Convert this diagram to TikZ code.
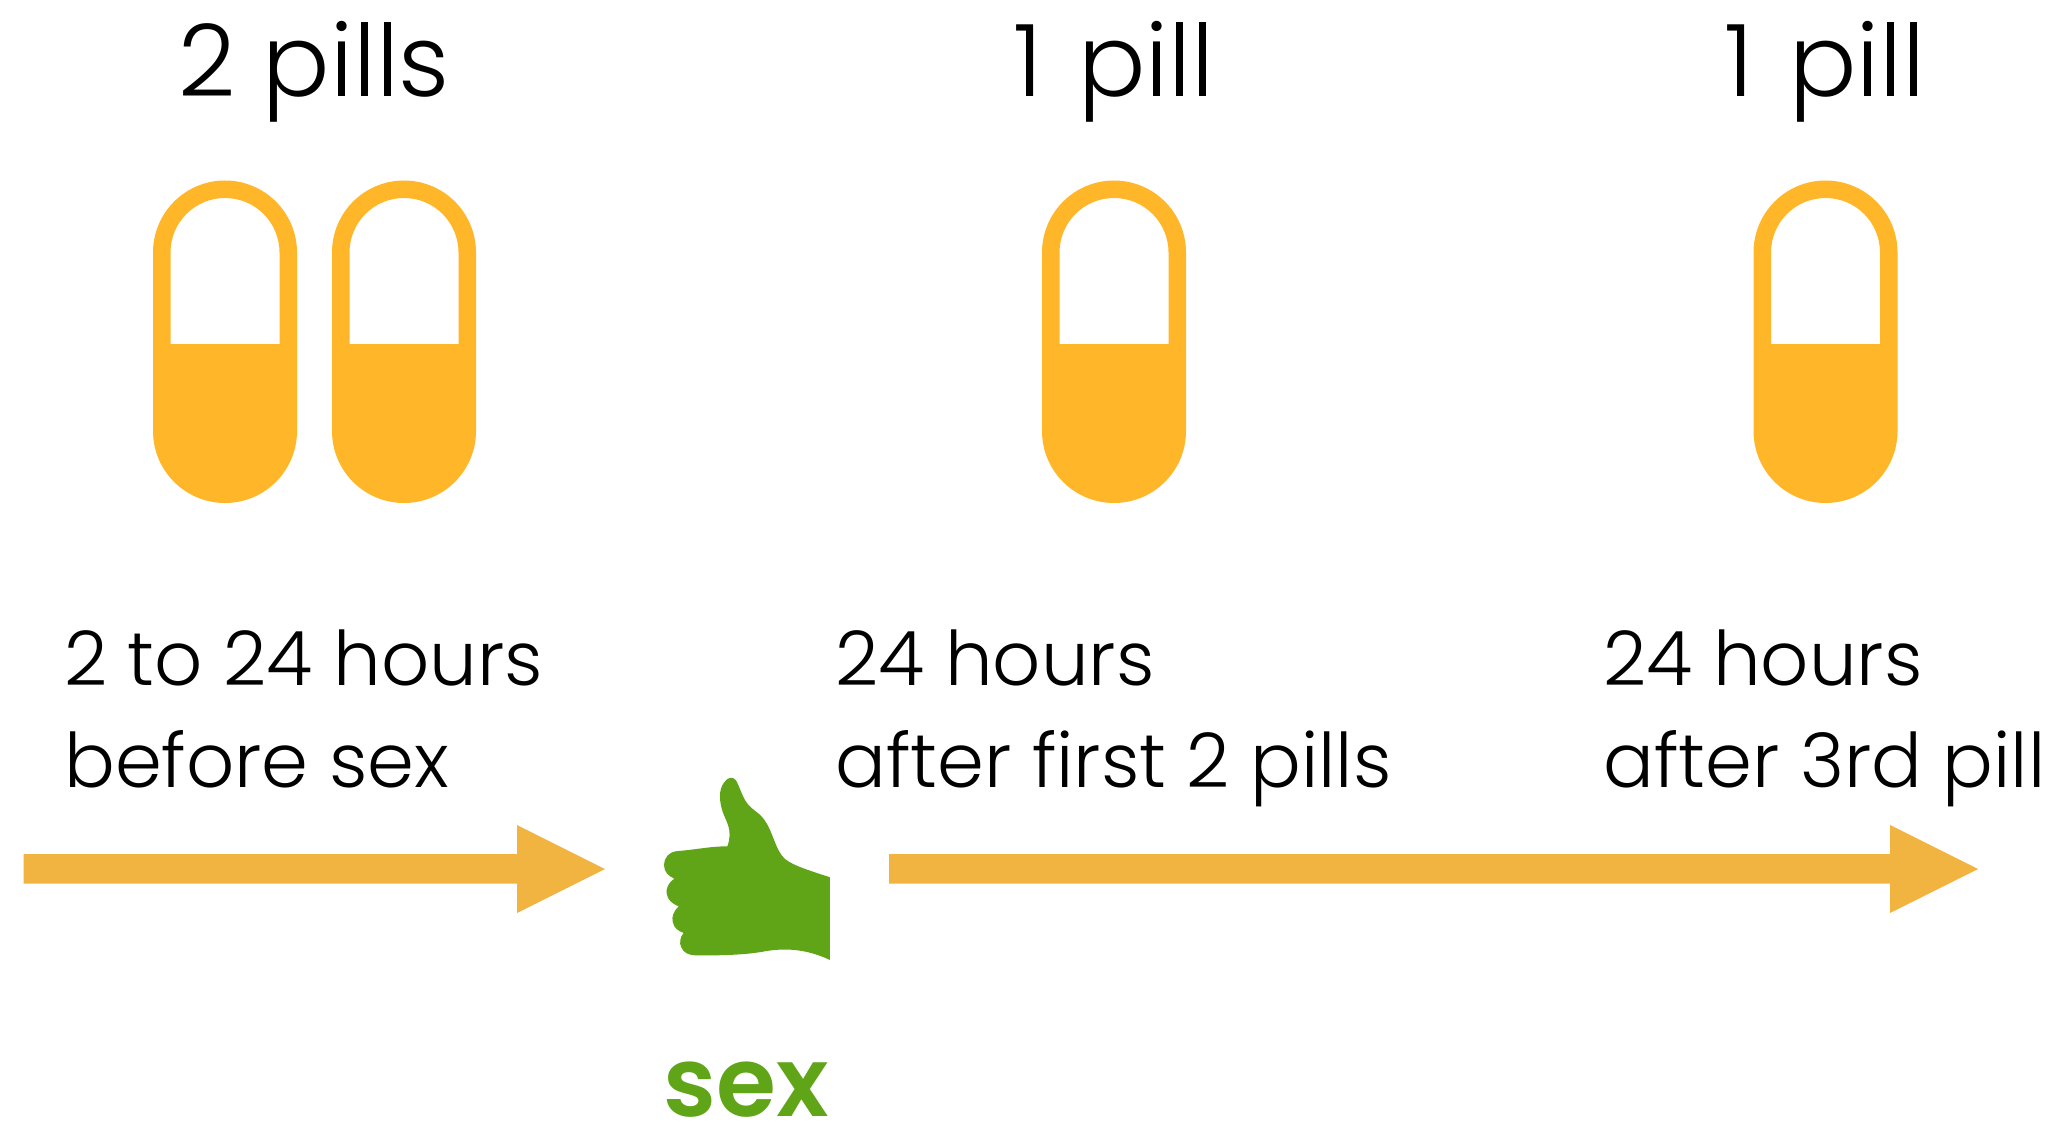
\documentclass[tikz,border=0pt]{standalone}
\usepackage{fontspec}
\setmainfont{Poppins Light}
\newfontfamily\boldfam{Poppins SemiBold}
\definecolor{pillc}{HTML}{FFB729}
\definecolor{arrowc}{HTML}{F2B441}
\definecolor{thumbc}{HTML}{60A418}
\tikzset{
  pilllabel/.style={inner sep=0pt,anchor=base,font=\fontsize{100}{100}\selectfont,text=black},
  timelabel/.style={inner sep=0pt,anchor=base west,align=left,font=\fontsize{75.3}{102}\selectfont,text=black},
  pillshape/.pic={
    \fill[pillc,even odd rule] (-72,-86.5) arc[start angle=180,end angle=360,radius=72] -- (72,92) arc[start angle=0,end angle=180,radius=72] -- cycle
      (-54.5,-86.5) -- (-54.5,5) -- (54.5,5) -- (54.5,-86.5) arc[start angle=0,end angle=-180,radius=54.5] -- cycle;
  }
}
\begin{document}
\begin{tikzpicture}[x=1pt,y=-1pt]
\useasboundingbox (0,0) rectangle (2058,1123);
\fill[white] (0,0) rectangle (2058,1123);
\pic at (225,339) {pillshape};
\pic at (404,339) {pillshape};
\pic at (1114,339) {pillshape};
\pic at (1825.5,339) {pillshape};
\node[pilllabel] (t1) at (314,97) {2 pills};
\node[pilllabel] (t2) at (1114,97) {1\hspace{8pt} pill};
\node[pilllabel] (t3) at (1825,97) {1\hspace{8pt} pill};
\node[timelabel] (a1) at (64,685) {2 to 24 hours};
\node[timelabel] (a2) at (64,787) {before sex};
\node[timelabel] (b1) at (835,685) {24 hours};
\node[timelabel] (b2) at (835,787) {after first 2 pills};
\node[timelabel] (c1) at (1603,685) {24 hours};
\node[timelabel] (c2) at (1603,787) {after 3rd pill};
\fill[arrowc] (23.5,854) -- (517,854) -- (517,825) -- (605,869) -- (517,913) -- (517,883.5) -- (23.5,883.5) -- cycle;
\fill[arrowc] (889,854) -- (1890,854) -- (1890,825) -- (1978,869) -- (1890,913) -- (1890,883.5) -- (889,883.5) -- cycle;
\begin{scope}[shift={(640,760)},x=0.3333pt,y=-0.3333pt]
\fill[thumbc] (570,352) .. controls (520,335) and (460,318) .. (435,297)
 .. controls (405,270) and (400,215) .. (372,178)
 .. controls (355,155) and (335,150) .. (318,125)
 .. controls (305,105) and (295,70) .. (287,60)
 .. controls (278,48) and (262,52) .. (252,68)
 .. controls (235,90) and (238,125) .. (248,155)
 .. controls (258,185) and (280,210) .. (262,259)
 .. controls (210,259) and (160,270) .. (115,273)
 .. controls (85,275) and (72,295) .. (72,315)
 .. controls (72,335) and (85,348) .. (103,356)
 .. controls (85,368) and (78,385) .. (80,400)
 .. controls (82,420) and (98,432) .. (116,439)
 .. controls (100,455) and (95,470) .. (98,485)
 .. controls (102,505) and (115,513) .. (131,519)
 .. controls (120,530) and (118,550) .. (123,560)
 .. controls (130,578) and (145,585) .. (165,586)
 .. controls (240,587) and (320,585) .. (380,573)
 .. controls (450,562) and (510,572) .. (570,600) -- cycle;
\end{scope}
\node[inner sep=0pt,anchor=base,text=thumbc,font=\fontsize{97}{97}\selectfont\boldfam] (s) at (746,1116) {sex};
\end{tikzpicture}
\end{document}
